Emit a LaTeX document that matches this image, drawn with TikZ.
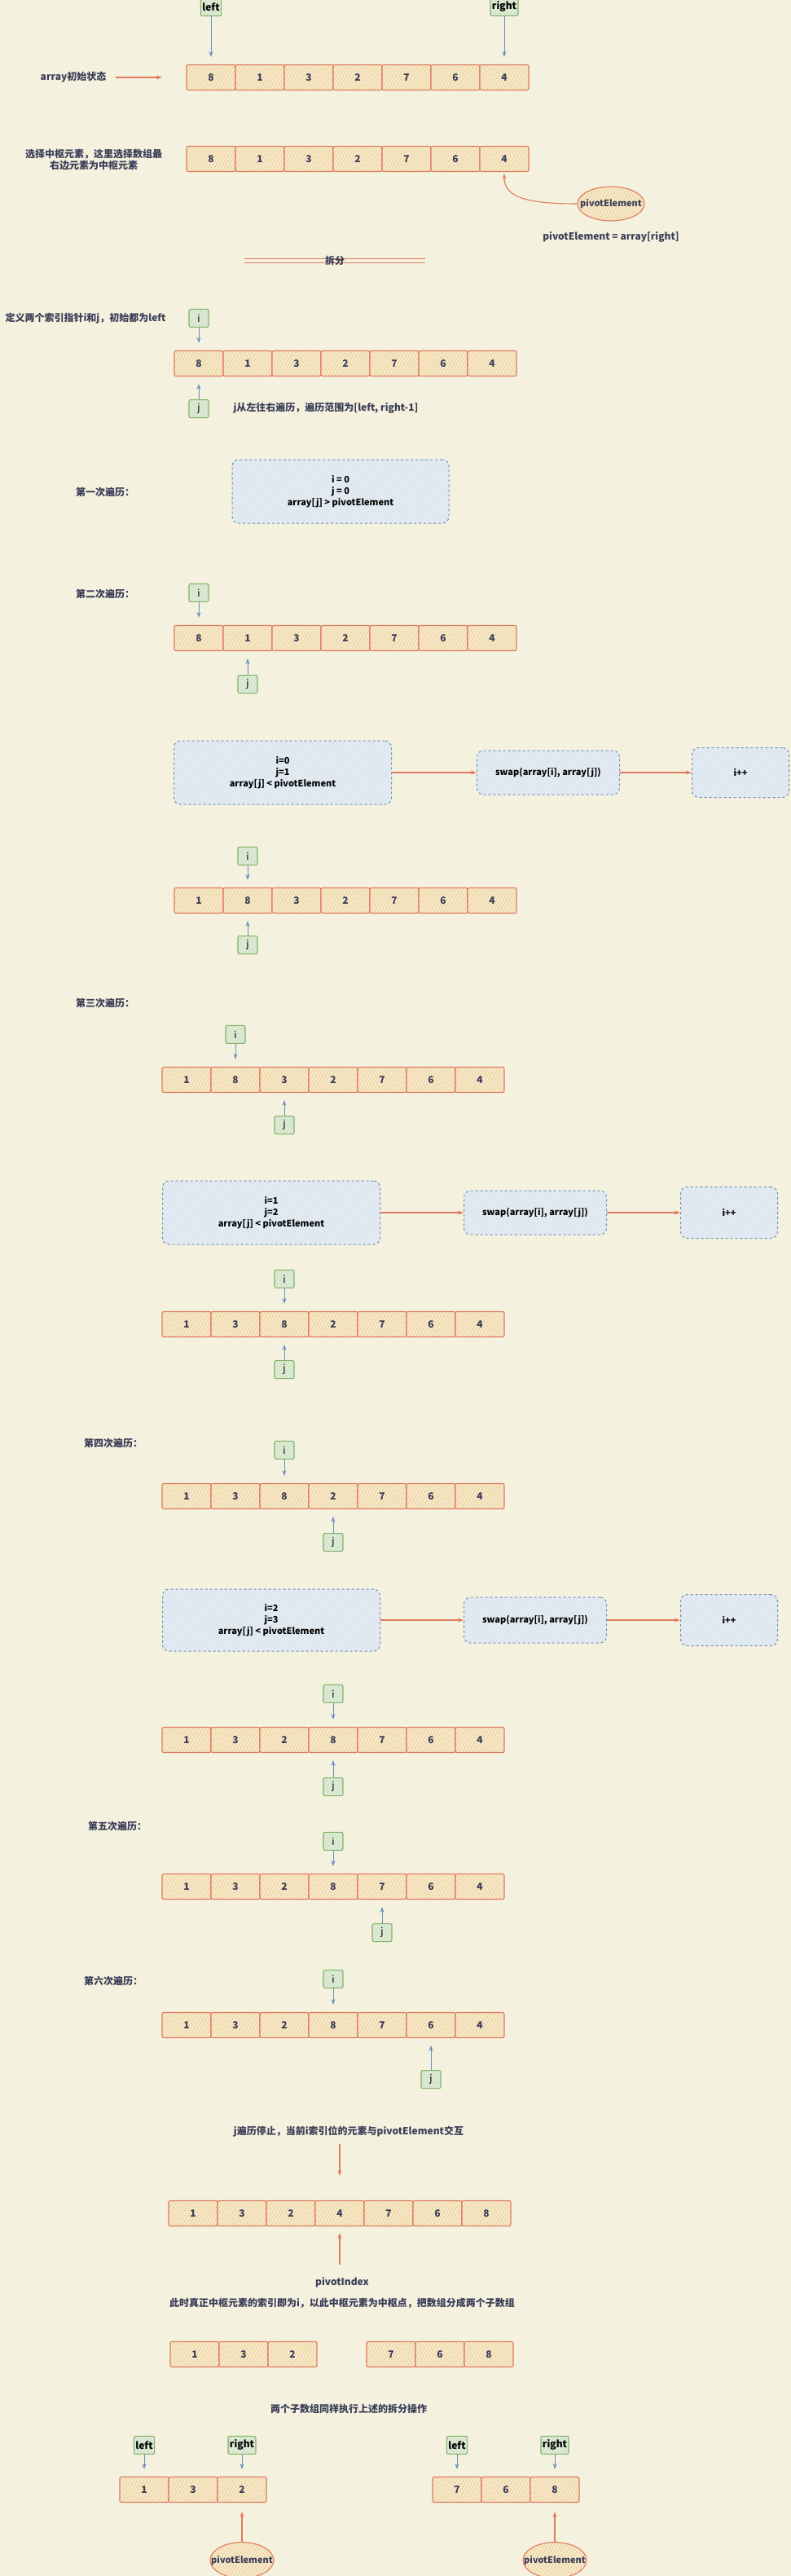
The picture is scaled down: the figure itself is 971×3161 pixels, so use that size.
\documentclass[tikz,border=0pt]{standalone}
\usepackage{fontspec}
\setmainfont{Noto Sans CJK SC}
\usetikzlibrary{arrows.meta,positioning,shapes.geometric,patterns.meta}

\definecolor{bgcream}{HTML}{F4F1DE}
\definecolor{cellline}{HTML}{E07A5F}
\definecolor{cellfill}{HTML}{F2CC8F}
\definecolor{inkblue}{HTML}{393C56}
\definecolor{ptrline}{HTML}{82B366}
\definecolor{ptrfill}{HTML}{D5E8D4}
\definecolor{boxline}{HTML}{6C8EBF}
\definecolor{boxfill}{HTML}{DAE8FC}

\tikzset{
  hatch/.style args={#1 on #2}{preaction={fill=#2},
    pattern={Lines[angle=60,distance=3.5pt,line width=0.8pt]}, pattern color=#1},
  cell/.style={draw=cellline, line width=1.1pt, rounded corners=2pt,
    hatch=cellfill on cellfill!20!bgcream, minimum width=60pt, minimum height=31pt,
    inner sep=0pt, text=inkblue, font=\bfseries\fontsize{12}{14}\selectfont},
  ptr/.style={draw=ptrline, line width=1.1pt, rounded corners=2pt,
    hatch=ptrfill!80!ptrline on ptrfill!60!bgcream, minimum width=24pt, minimum height=22pt,
    inner sep=2pt, text=black, font=\fontsize{12}{14}\selectfont},
  cond/.style={draw=boxline, dashed, line width=1pt, rounded corners=8pt,
    hatch=boxfill!70!boxline!60 on boxfill!60!bgcream, align=center, text=black,
    font=\bfseries\fontsize{11}{14}\selectfont},
  pivot/.style={ellipse, draw=cellline, line width=1.1pt, hatch=cellfill on cellfill!20!bgcream,
    minimum width=82pt, minimum height=42pt, inner sep=0pt, text=inkblue,
    font=\bfseries\fontsize{11}{13}\selectfont},
  note/.style={text=inkblue, align=center, font=\bfseries\fontsize{12}{14}\selectfont},
  bluearrow/.style={draw=boxline, line width=1pt, shorten >=9pt,
    -{Stealth[open,length=7pt,width=5pt]}},
  redarrow/.style={draw=cellline, line width=1.1pt,
    -{Stealth[open,length=7pt,width=5pt]}}
}

\begin{document}
\begin{tikzpicture}[x=1pt,y=-1pt]
\useasboundingbox (0,0) rectangle (971,3161);
\fill[bgcream] (0,0) rectangle (971,3161);

% initial array
\node[cell] (r1c1) at (259,95) {8};
\node[cell] (r1c2) at (319,95) {1};
\node[cell] (r1c3) at (379,95) {3};
\node[cell] (r1c4) at (439,95) {2};
\node[cell] (r1c5) at (499,95) {7};
\node[cell] (r1c6) at (559,95) {6};
\node[cell] (r1c7) at (619,95) {4};
\node[ptr, font=\bfseries\fontsize{12}{14}\selectfont, above=59pt of r1c1] (left1) {left};
\node[ptr, font=\bfseries\fontsize{12}{14}\selectfont, above=59pt of r1c7] (right1) {right};
\draw[bluearrow] (left1) -- (r1c1);
\draw[bluearrow] (right1) -- (r1c7);
\node[note] (t1) at (90,95) {array初始状态};
\coordinate (p0) at (199,95);
\draw[redarrow, shorten <=8pt] (t1) -- (p0);

% pivot choice
\node[cell] (r2c1) at (259,195) {8};
\node[cell] (r2c2) at (319,195) {1};
\node[cell] (r2c3) at (379,195) {3};
\node[cell] (r2c4) at (439,195) {2};
\node[cell] (r2c5) at (499,195) {7};
\node[cell] (r2c6) at (559,195) {6};
\node[cell] (r2c7) at (619,195) {4};
\node[note] (t2) at (115,196) {选择中枢元素，这里选择数组最\\右边元素为中枢元素};
\node[pivot] (piv) at (750,250) {\makebox[0pt]{pivotElement}};
\draw[redarrow, shorten >=2pt] (piv.west) .. controls (640,250) and (619,240) .. (r2c7.south);
\node[note] (t3) at (750,291) {pivotElement = array[right]};

% split
\coordinate (sl) at (300,320);
\coordinate (sr) at (522,320);
\draw[cellline, line width=1.2pt, double=bgcream, double distance=4pt] (sl) -- (sr);
\node[note] (split) at (411,320) {拆分};

% i and j
\node[note] (t4) at (105,391) {定义两个索引指针i和j，初始都为left};
\node[cell] (r3c1) at (244,446) {8};
\node[cell] (r3c2) at (304,446) {1};
\node[cell] (r3c3) at (364,446) {3};
\node[cell] (r3c4) at (424,446) {2};
\node[cell] (r3c5) at (484,446) {7};
\node[cell] (r3c6) at (544,446) {6};
\node[cell] (r3c7) at (604,446) {4};
\node[ptr, above=28pt of r3c1] (i3) {i};
\node[ptr, below=28pt of r3c1] (j3) {j};
\draw[bluearrow] (i3) -- (r3c1);
\draw[bluearrow] (j3) -- (r3c1);
\node[note] (t5) at (400,501) {j从左往右遍历，遍历范围为[left, right-1]};

% pass 1
\node[note] (t6) at (129,604) {第一次遍历：};
\node[cond, minimum width=266pt, minimum height=78pt] (c1) at (418,603) {i = 0\\j = 0\\array[j] > pivotElement};

% pass 2
\node[note] (t7) at (129,729) {第二次遍历：};
\node[cell] (r4c1) at (244,783) {8};
\node[cell] (r4c2) at (304,783) {1};
\node[cell] (r4c3) at (364,783) {3};
\node[cell] (r4c4) at (424,783) {2};
\node[cell] (r4c5) at (484,783) {7};
\node[cell] (r4c6) at (544,783) {6};
\node[cell] (r4c7) at (604,783) {4};
\node[ptr, above=28pt of r4c1] (i4) {i};
\node[ptr, below=29pt of r4c2] (j4) {j};
\draw[bluearrow] (i4) -- (r4c1);
\draw[bluearrow] (j4) -- (r4c2);
\node[cond, minimum width=267pt, minimum height=78pt] (c2a) at (347,948) {i=0\\j=1\\array[j] < pivotElement};
\node[cond, minimum width=175pt, minimum height=54pt] (c2b) at (673,948) {swap(array[i], array[j])};
\node[cond, minimum width=119pt, minimum height=61pt] (c2c) at (909,948) {i++};
\draw[redarrow] (c2a) -- (c2b);
\draw[redarrow] (c2b) -- (c2c);
\node[cell] (r5c1) at (244,1105) {1};
\node[cell] (r5c2) at (304,1105) {8};
\node[cell] (r5c3) at (364,1105) {3};
\node[cell] (r5c4) at (424,1105) {2};
\node[cell] (r5c5) at (484,1105) {7};
\node[cell] (r5c6) at (544,1105) {6};
\node[cell] (r5c7) at (604,1105) {4};
\node[ptr, above=27pt of r5c2] (i5) {i};
\node[ptr, below=27pt of r5c2] (j5) {j};
\draw[bluearrow] (i5) -- (r5c2);
\draw[bluearrow] (j5) -- (r5c2);

% pass 3
\node[note] (t8) at (129,1231) {第三次遍历：};
\node[cell] (r6c1) at (229,1325) {1};
\node[cell] (r6c2) at (289,1325) {8};
\node[cell] (r6c3) at (349,1325) {3};
\node[cell] (r6c4) at (409,1325) {2};
\node[cell] (r6c5) at (469,1325) {7};
\node[cell] (r6c6) at (529,1325) {6};
\node[cell] (r6c7) at (589,1325) {4};
\node[ptr, above=28pt of r6c2] (i6) {i};
\node[ptr, below=28pt of r6c3] (j6) {j};
\draw[bluearrow] (i6) -- (r6c2);
\draw[bluearrow] (j6) -- (r6c3);
\node[cond, minimum width=267pt, minimum height=78pt] (c3a) at (333,1488) {i=1\\j=2\\array[j] < pivotElement};
\node[cond, minimum width=175pt, minimum height=54pt] (c3b) at (657,1488) {swap(array[i], array[j])};
\node[cond, minimum width=119pt, minimum height=63pt] (c3c) at (895,1488) {i++};
\draw[redarrow] (c3a) -- (c3b);
\draw[redarrow] (c3b) -- (c3c);
\node[cell] (r7c1) at (229,1625) {1};
\node[cell] (r7c2) at (289,1625) {3};
\node[cell] (r7c3) at (349,1625) {8};
\node[cell] (r7c4) at (409,1625) {2};
\node[cell] (r7c5) at (469,1625) {7};
\node[cell] (r7c6) at (529,1625) {6};
\node[cell] (r7c7) at (589,1625) {4};
\node[ptr, above=28pt of r7c3] (i7) {i};
\node[ptr, below=28pt of r7c3] (j7) {j};
\draw[bluearrow] (i7) -- (r7c3);
\draw[bluearrow] (j7) -- (r7c3);

% pass 4
\node[note] (t9) at (139,1771) {第四次遍历：};
\node[cell] (r8c1) at (229,1836) {1};
\node[cell] (r8c2) at (289,1836) {3};
\node[cell] (r8c3) at (349,1836) {8};
\node[cell] (r8c4) at (409,1836) {2};
\node[cell] (r8c5) at (469,1836) {7};
\node[cell] (r8c6) at (529,1836) {6};
\node[cell] (r8c7) at (589,1836) {4};
\node[ptr, above=29pt of r8c3] (i8) {i};
\node[ptr, below=29pt of r8c4] (j8) {j};
\draw[bluearrow] (i8) -- (r8c3);
\draw[bluearrow] (j8) -- (r8c4);
\node[cond, minimum width=267pt, minimum height=76pt] (c4a) at (333,1988) {i=2\\j=3\\array[j] < pivotElement};
\node[cond, minimum width=175pt, minimum height=56pt] (c4b) at (657,1988) {swap(array[i], array[j])};
\node[cond, minimum width=119pt, minimum height=63pt] (c4c) at (895,1988) {i++};
\draw[redarrow] (c4a) -- (c4b);
\draw[redarrow] (c4b) -- (c4c);
\node[cell] (r9c1) at (229,2135) {1};
\node[cell] (r9c2) at (289,2135) {3};
\node[cell] (r9c3) at (349,2135) {2};
\node[cell] (r9c4) at (409,2135) {8};
\node[cell] (r9c5) at (469,2135) {7};
\node[cell] (r9c6) at (529,2135) {6};
\node[cell] (r9c7) at (589,2135) {4};
\node[ptr, above=29pt of r9c4] (i9) {i};
\node[ptr, below=30pt of r9c4] (j9) {j};
\draw[bluearrow] (i9) -- (r9c4);
\draw[bluearrow] (j9) -- (r9c4);

% pass 5
\node[note] (t10) at (144,2241) {第五次遍历：};
\node[cell] (r10c1) at (229,2315) {1};
\node[cell] (r10c2) at (289,2315) {3};
\node[cell] (r10c3) at (349,2315) {2};
\node[cell] (r10c4) at (409,2315) {8};
\node[cell] (r10c5) at (469,2315) {7};
\node[cell] (r10c6) at (529,2315) {6};
\node[cell] (r10c7) at (589,2315) {4};
\node[ptr, above=28pt of r10c4] (i10) {i};
\node[ptr, below=29pt of r10c5] (j10) {j};
\draw[bluearrow] (i10) -- (r10c4);
\draw[bluearrow] (j10) -- (r10c5);

% pass 6
\node[note] (t11) at (139,2431) {第六次遍历：};
\node[cell] (r11c1) at (229,2485) {1};
\node[cell] (r11c2) at (289,2485) {3};
\node[cell] (r11c3) at (349,2485) {2};
\node[cell] (r11c4) at (409,2485) {8};
\node[cell] (r11c5) at (469,2485) {7};
\node[cell] (r11c6) at (529,2485) {6};
\node[cell] (r11c7) at (589,2485) {4};
\node[ptr, above=29pt of r11c4] (i11) {i};
\node[ptr, below=39pt of r11c6] (j11) {j};
\draw[bluearrow] (i11) -- (r11c4);
\draw[bluearrow] (j11) -- (r11c6);

% swap with pivot
\node[note] (t12) at (428,2616) {j遍历停止，当前i索引位的元素与pivotElement交互};
\node[cell] (r12c1) at (237,2716) {1};
\node[cell] (r12c2) at (297,2716) {3};
\node[cell] (r12c3) at (357,2716) {2};
\node[cell] (r12c4) at (417,2716) {4};
\node[cell] (r12c5) at (477,2716) {7};
\node[cell] (r12c6) at (537,2716) {6};
\node[cell] (r12c7) at (597,2716) {8};
\draw[redarrow, shorten <=5pt, shorten >=30pt] (t12.south -| r12c4) -- (r12c4.north);
\node[note] (t13) at (420,2801) {pivotIndex};
\draw[redarrow, shorten <=12pt, shorten >=8pt] (t13.north -| r12c4) -- (r12c4.south);
\node[note] (t14) at (420,2826) {此时真正中枢元素的索引即为i，以此中枢元素为中枢点，把数组分成两个子数组};

% two sub arrays
\node[cell] (r13c1) at (239,2889) {1};
\node[cell] (r13c2) at (299,2889) {3};
\node[cell] (r13c3) at (359,2889) {2};
\node[cell] (r13c5) at (480,2889) {7};
\node[cell] (r13c6) at (540,2889) {6};
\node[cell] (r13c7) at (600,2889) {8};
\node[note] (t15) at (428,2956) {两个子数组同样执行上述的拆分操作};

\node[cell] (r14c1) at (177,3055) {1};
\node[cell] (r14c2) at (237,3055) {3};
\node[cell] (r14c3) at (297,3055) {2};
\node[ptr, font=\bfseries\fontsize{12}{14}\selectfont, above=27pt of r14c1] (left2) {left};
\node[ptr, font=\bfseries\fontsize{12}{14}\selectfont, above=27pt of r14c3] (right2) {right};
\draw[bluearrow] (left2) -- (r14c1);
\draw[bluearrow] (right2) -- (r14c3);
\node[pivot, minimum width=78pt, minimum height=44pt, below=48pt of r14c3] (piv2) {\makebox[0pt]{pivotElement}};
\draw[redarrow, shorten >=11pt] (piv2) -- (r14c3);

\node[cell] (r14c5) at (561,3055) {7};
\node[cell] (r14c6) at (621,3055) {6};
\node[cell] (r14c7) at (681,3055) {8};
\node[ptr, font=\bfseries\fontsize{12}{14}\selectfont, above=27pt of r14c5] (left3) {left};
\node[ptr, font=\bfseries\fontsize{12}{14}\selectfont, above=27pt of r14c7] (right3) {right};
\draw[bluearrow] (left3) -- (r14c5);
\draw[bluearrow] (right3) -- (r14c7);
\node[pivot, minimum width=78pt, minimum height=44pt, below=48pt of r14c7] (piv3) {\makebox[0pt]{pivotElement}};
\draw[redarrow, shorten >=11pt] (piv3) -- (r14c7);
\end{tikzpicture}
\end{document}
